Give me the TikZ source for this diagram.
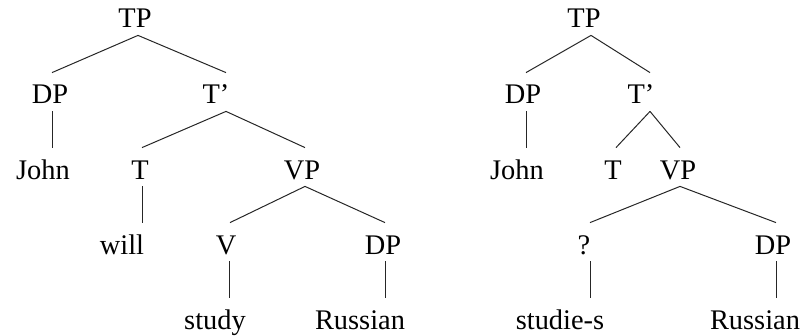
\documentclass[tikz,border=0pt]{standalone}
\usepackage{fontspec}
\setmainfont{Liberation Serif}
\begin{document}
\begin{tikzpicture}[x=0.5pt,y=-0.5pt,
  lab/.style={inner sep=0pt, anchor=base, text height=15.5pt, text depth=3.5pt,
    font=\fontsize{14.2}{17}\selectfont},
  edge/.style={draw=black!85, line width=0.5pt}]
\useasboundingbox (0,0) rectangle (806,336);
% ---------- left tree ----------
\node[lab] (TPa) at (135,28) {TP};
\node[lab] (DPa) at (50,104) {DP};
\node[lab] (Tba) at (216,104) {T’};
\node[lab] (Johna) at (43,179) {John};
\node[lab] (Ta) at (140,179) {T};
\node[lab] (VPa) at (302,179) {VP};
\node[lab] (will) at (122,254) {will};
\node[lab] (Va) at (226,254) {V};
\node[lab] (DPb) at (383,254) {DP};
\node[lab] (study) at (215,329) {study};
\node[lab] (Russa) at (360,329) {Russian};
\draw[edge] ([shift={(3,0)}]TPa.south) -- ([shift={(2,0)}]DPa.north);
\draw[edge] ([shift={(3,0)}]TPa.south) -- ([shift={(10,0)}]Tba.north);
\draw[edge] ([shift={(2,0)}]DPa.south) -- ([shift={(2,0)}]DPa.south |- Johna.north);
\draw[edge] ([shift={(10,0)}]Tba.south) -- ([shift={(2,0)}]Ta.north);
\draw[edge] ([shift={(10,0)}]Tba.south) -- ([shift={(3,0)}]VPa.north);
\draw[edge] ([shift={(2,0)}]Ta.south) -- ([shift={(2,0)}]Ta.south |- will.north);
\draw[edge] ([shift={(3,0)}]VPa.south) -- ([shift={(4,0)}]Va.north);
\draw[edge] ([shift={(3,0)}]VPa.south) -- ([shift={(2,0)}]DPb.north);
\draw[edge] ([shift={(3,0)}]Va.south) -- ([shift={(3,0)}]Va.south |- study.north);
\draw[edge] ([shift={(2,0)}]DPb.south) -- ([shift={(2,0)}]DPb.south |- Russa.north);
% ---------- right tree ----------
\node[lab] (TPb) at (584,28) {TP};
\node[lab] (DPc) at (523,104) {DP};
\node[lab] (Tbb) at (641,104) {T’};
\node[lab] (Johnb) at (517,179) {John};
\node[lab] (Tb) at (613,179) {T};
\node[lab] (VPb) at (678,179) {VP};
\node[lab] (Q) at (584,254) {?};
\node[lab] (DPd) at (773,254) {DP};
\node[lab] (studies) at (560,329) {studie-s};
\node[lab] (Russb) at (755,329) {Russian};
\draw[edge] ([shift={(7,0)}]TPb.south) -- ([shift={(3,0)}]DPc.north);
\draw[edge] ([shift={(7,0)}]TPb.south) -- ([shift={(9,0)}]Tbb.north);
\draw[edge] ([shift={(3,0)}]DPc.south) -- ([shift={(3,0)}]DPc.south |- Johnb.north);
\draw[edge] ([shift={(9,0)}]Tbb.south) -- ([shift={(3,0)}]Tb.north);
\draw[edge] ([shift={(9,0)}]Tbb.south) -- ([shift={(2,0)}]VPb.north);
\draw[edge] ([shift={(2,0)}]VPb.south) -- ([shift={(6,0)}]Q.north);
\draw[edge] ([shift={(2,0)}]VPb.south) -- ([shift={(3,0)}]DPd.north);
\draw[edge] ([shift={(6,0)}]Q.south) -- ([shift={(6,0)}]Q.south |- studies.north);
\draw[edge] ([shift={(3,0)}]DPd.south) -- ([shift={(3,0)}]DPd.south |- Russb.north);
\end{tikzpicture}
\end{document}
